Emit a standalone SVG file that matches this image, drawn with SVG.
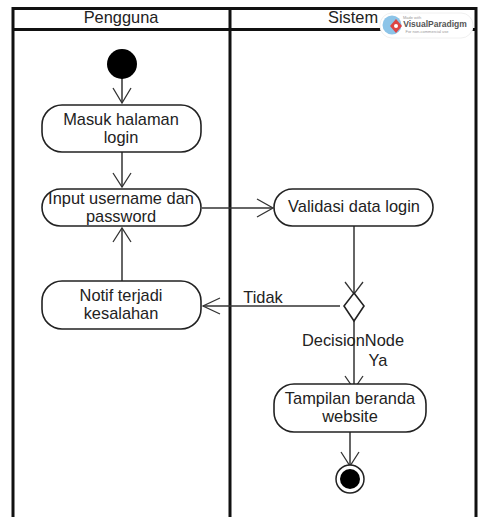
<svg xmlns="http://www.w3.org/2000/svg" width="478" height="517" viewBox="0 0 478 517">
<style>
text{font-family:"Liberation Sans",Arial,sans-serif;font-size:16.400px;fill:#222;text-anchor:middle}
.lane{fill:none;stroke:#111;stroke-width:3}
.node{fill:#fff;stroke:#222;stroke-width:1.6}
.edge{fill:none;stroke:#333;stroke-width:1.5}
.head{fill:none;stroke:#333;stroke-width:1.3}
.small{font-size:4px;fill:#999}
</style>
<rect width="478" height="517" fill="#fff"/>
<g id="swimlanes">
<path class="lane" d="M13 517V8.500H476V517M13 29.500H476M230 8.500V517"/>
<text x="121" y="23">Pengguna</text>
<text x="353" y="23">Sistem</text>
</g>
<g id="connectors">
<path class="edge" d="M122 78V103"/><path class="head" d="M113 88L122 103L131 88"/>
<path class="edge" d="M122 152V187"/><path class="head" d="M113 173L122 187L131 173"/>
<path class="edge" d="M202 208H272"/><path class="head" d="M257 199L273 208L257 217"/>
<path class="edge" d="M122 281V228"/><path class="head" d="M113 242L122 228L131 242"/>
<path class="edge" d="M354 226V293"/><path class="head" d="M345 282L354 294L363 282"/>
<path class="edge" d="M340 306H203"/><path class="head" d="M220 298L203 306L220 314"/>
<path class="edge" d="M354 321V388"/><path class="head" d="M345 376L354 389L363 376"/>
<path class="edge" d="M350 432V465"/><path class="head" d="M341 452L350 466L359 452"/>
<text x="263" y="303">Tidak</text>
<text x="353" y="346">DecisionNode</text>
<text x="378" y="366">Ya</text>
</g>
<g id="start"><circle cx="122" cy="64" r="15" fill="#000"/></g>
<g id="masuk-halaman-login"><rect class="node" x="42" y="105" width="159" height="47" rx="20"/><text x="121" y="125">Masuk halaman</text><text x="121" y="143">login</text></g>
<g id="input-username"><rect class="node" x="42" y="189" width="159" height="37" rx="18.500"/><text x="121" y="204">Input username dan</text><text x="121" y="222">password</text></g>
<g id="notif-kesalahan"><rect class="node" x="42" y="281" width="159" height="48" rx="20"/><text x="121" y="301">Notif terjadi</text><text x="121" y="319">kesalahan</text></g>
<g id="validasi-data-login"><rect class="node" x="274" y="189" width="159" height="37" rx="18.500"/><text x="354" y="212">Validasi data login</text></g>
<g id="decision"><polygon class="node" points="354,293 364,306 354,321 344,306"/></g>
<g id="tampilan-beranda"><rect class="node" x="274" y="384" width="152" height="48" rx="20"/><text x="350" y="404">Tampilan beranda</text><text x="350" y="422">website</text></g>
<g id="end"><circle cx="350" cy="479" r="14" fill="#fff" stroke="#222" stroke-width="1.500"/><circle cx="350" cy="479" r="10" fill="#000"/></g>
<g id="watermark">
<rect x="380" y="13" width="93" height="25" rx="12" fill="#fff" stroke="#f0f0f0"/>
<circle cx="392" cy="25" r="9.500" fill="#8cc4e8"/>
<polygon points="396,19 402,26 396,33 390,26" fill="#d44"/>
<circle cx="396" cy="26" r="2" fill="#fff"/>
<text class="small" x="412" y="19">Made with</text>
<text x="435" y="27" style="font-size:8.500px;fill:#555;font-weight:bold">VisualParadigm</text>
<text class="small" x="427" y="33">For non-commercial use</text>
</g>
</svg>
